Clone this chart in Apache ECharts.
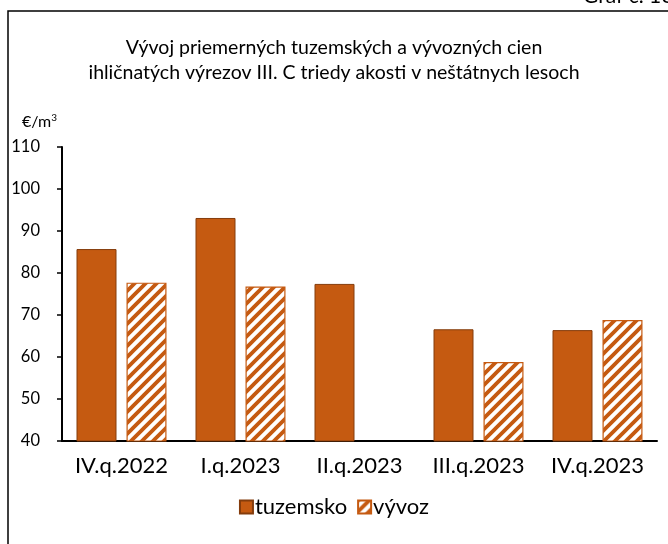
<!DOCTYPE html>
<html>
<head>
<meta charset="utf-8">
<script src="https://cdn.jsdelivr.net/npm/echarts@6/dist/echarts.min.js"></script>
<style>html,body{margin:0;padding:0;background:#fff;}#c{width:668px;height:544px;}</style>
</head>
<body>
<div id="c"></div>
<script>
const categories = ['IV.q.2022', 'I.q.2023', 'II.q.2023', 'III.q.2023', 'IV.q.2023'];
const tuzemsko = [85.7, 93.1, 77.4, 66.6, 66.4];
const vyvoz = [77.7, 76.8, 39.5, 58.8, 68.8];
const seriesNames = ['tuzemsko', 'vývoz'];
const titleText = 'Vývoj priemerných tuzemských a vývozných cien\nihličnatých výrezov III. C triedy akosti v neštátnych lesoch';

function makeHatch() {
  const p = 11;
  const c = document.createElement('canvas');
  c.width = p; c.height = p;
  const g = c.getContext('2d');
  g.fillStyle = '#ffffff';
  g.fillRect(0, 0, p, p);
  g.strokeStyle = '#C55A11';
  g.lineWidth = 3.8;
  g.beginPath();
  g.moveTo(-1, p + 1); g.lineTo(p + 1, -1);
  g.moveTo(-p / 2 - 1, p / 2 + 1); g.lineTo(p / 2 + 1, -p / 2 - 1);
  g.moveTo(p / 2 - 1, 3 * p / 2 + 1); g.lineTo(3 * p / 2 + 1, p / 2 - 1);
  g.stroke();
  return c;
}

const chart = echarts.init(document.getElementById('c'), null, {renderer: 'canvas'});
const FONT = 'Lato, "Open Sans", sans-serif';
chart.setOption({
  animation: false,
  backgroundColor: '#fff',
  textStyle: {fontFamily: FONT, color: '#000'},
  title: {
    text: titleText,
    left: 'center',
    top: 30,
    textStyle: {fontFamily: FONT, fontSize: 19.5, fontWeight: 'normal', color: '#000', lineHeight: 25}
  },
  grid: {left: 62, right: 11, top: 147, bottom: 103, containLabel: false},
  legend: {
    bottom: 21,
    left: 'center',
    icon: 'rect',
    itemWidth: 13,
    itemHeight: 13,
    itemGap: 10,
    textStyle: {fontFamily: FONT, fontSize: 22, color: '#000', padding: [0, 0, 0, -3]},
    data: seriesNames
  },
  xAxis: {
    type: 'category',
    data: categories,
    axisLine: {lineStyle: {color: '#000', width: 2}},
    axisTick: {inside: true, length: 6, lineStyle: {color: '#000', width: 1.5}},
    axisLabel: {fontFamily: FONT, fontSize: 22, color: '#000', margin: 14, interval: 0, hideOverlap: false}
  },
  yAxis: {
    type: 'value',
    min: 40, max: 110, interval: 10,
    splitLine: {show: false},
    axisLine: {show: true, lineStyle: {color: '#000', width: 2}},
    axisTick: {show: true, inside: false, length: 5, lineStyle: {color: '#000', width: 1.5}},
    axisLabel: {fontFamily: FONT, fontSize: 16.5, color: '#000', margin: 22}
  },
  graphic: [
    {type: 'rect', shape: {x: 8, y: 11, width: 720, height: 620}, style: {fill: 'none', stroke: '#000', lineWidth: 1.5}, silent: true},
    {type: 'text', x: 583, y: 7, style: {text: 'Graf č. 10', fontFamily: FONT, fontSize: 21, fill: '#000', textVerticalAlign: 'bottom'}},
    {type: 'text', x: 22, y: 122, style: {
      text: '€/m{sup|3}', fontFamily: FONT, fontSize: 16, fill: '#000', textVerticalAlign: 'middle',
      rich: {sup: {fontSize: 10, fontFamily: FONT, verticalAlign: 'top', padding: [0, 0, 8, 0]}}
    }}
  ],
  series: [
    {
      name: seriesNames[0], type: 'bar', data: tuzemsko,
      barWidth: 40, barGap: '25%',
      itemStyle: {color: '#C55A11', borderColor: '#843C0C', borderWidth: 1}
    },
    {
      name: seriesNames[1], type: 'bar', data: vyvoz,
      barWidth: 40, barGap: '25%',
      itemStyle: {color: {image: makeHatch(), repeat: 'repeat'}, borderColor: '#C55A11', borderWidth: 1.2}
    }
  ]
});
</script>
</body>
</html>
